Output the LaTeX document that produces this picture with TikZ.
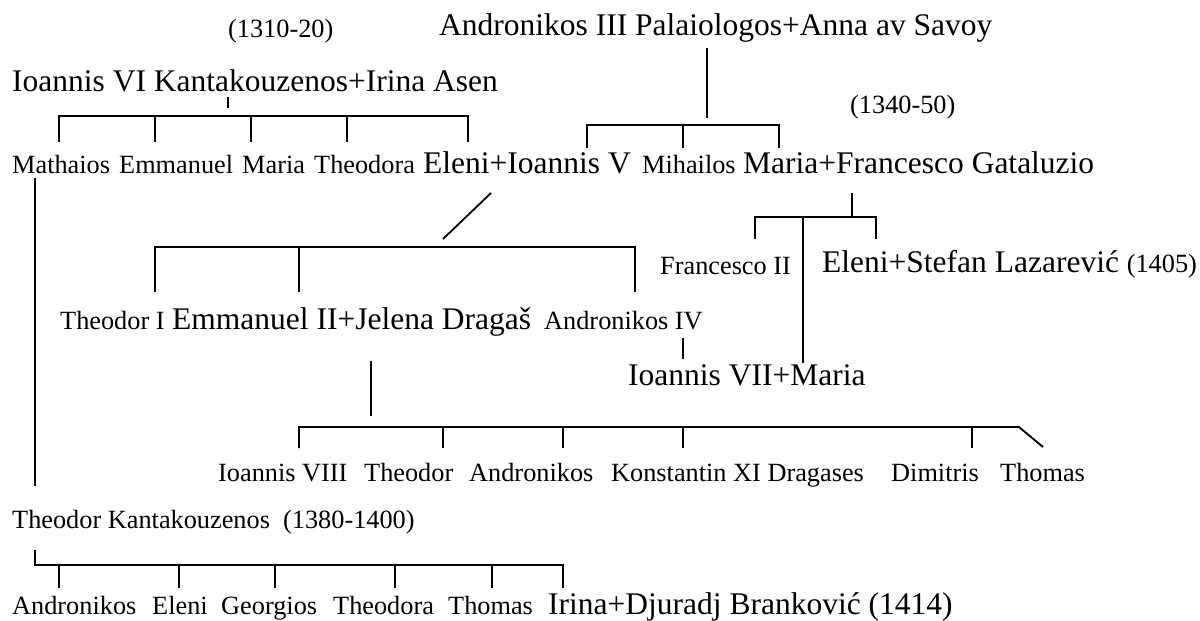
\documentclass[tikz,border=0pt]{standalone}
\usepackage{fontspec}
\setmainfont{Liberation Serif}
\newcommand\bigT{\fontsize{31.5}{36}\selectfont}
\newcommand\smT{\fontsize{26.3}{30}\selectfont}
\begin{document}
\begin{tikzpicture}[x=1pt,y=-1pt,
  big/.style={anchor=base west,inner sep=0pt,font=\bigT},
  sm/.style={anchor=base west,inner sep=0pt,font=\smT},
  link/.style={line width=1.8pt,line cap=butt,line join=miter}]
\useasboundingbox (0,0) rectangle (1200,621);
% row 0
\node[sm]  (d1310) at (228,37) {(1310-20)};
\node[big] (andIII) at (439,35) {Andronikos III Palaiologos+Anna av Savoy};
% row 1
\node[big] (ioVI) at (12,91) {Ioannis VI Kantakouzenos+Irina Asen};
\node[sm]  (d1340) at (850,113) {(1340-50)};
% row 2
\node[sm]  (mathaios) at (12,173) {Mathaios};
\node[sm]  (emmanuel) at (119,173) {Emmanuel};
\node[sm]  (maria) at (242,173) {Maria};
\node[sm]  (theodora) at (314,173) {Theodora};
\node[big] (eleniV) at (423,173) {Eleni+Ioannis V};
\node[sm]  (mihailos) at (642,173) {Mihailos};
\node[big] (mariaF) at (743,173) {Maria+Francesco Gataluzio};
% row 3
\node[sm]  (francII) at (660,274) {Francesco II};
\node[big] (eleniS) at (822,272) {Eleni+Stefan Lazarević {\smT(1405)}};
% row 4
\node[sm]  (theoI) at (60,329) {Theodor I};
\node[big] (emmII) at (172,329) {Emmanuel II+Jelena Dragaš};
\node[sm]  (andIV) at (544,329) {Andronikos IV};
% row 5
\node[big] (ioVII) at (628,385) {Ioannis VII+Maria};
% row 6
\node[sm]  (ioVIII) at (218,481) {Ioannis VIII};
\node[sm]  (theodor) at (364,481) {Theodor};
\node[sm]  (andr) at (469,481) {Andronikos};
\node[sm]  (konst) at (611,481) {Konstantin XI Dragases};
\node[sm]  (dimitris) at (891,481) {Dimitris};
\node[sm]  (thomas) at (1000,481) {Thomas};
% row 7
\node[sm]  (theoK) at (12,528) {Theodor Kantakouzenos\ \ (1380-1400)};
% row 8
\node[sm]  (andrB) at (12,614) {Andronikos};
\node[sm]  (eleniB) at (152,614) {Eleni};
\node[sm]  (georg) at (221,614) {Georgios};
\node[sm]  (theodoraB) at (333,614) {Theodora};
\node[sm]  (thomasB) at (448,614) {Thomas};
\node[big] (irina) at (548,614) {Irina+Djuradj Branković (1414)};
% connectors
% Ioannis VI family
\draw[link] (228,97) -- (228,108);
\draw[link] (59,142) -- (59,116) -- (468,116) -- (468,142);
\foreach \x in {155,251,347} \draw[link] (\x,116) -- (\x,142);
% Andronikos III family
\draw[link] (707,48) -- (707,118);
\draw[link] (587,148) -- (587,125) -- (779,125) -- (779,148);
\draw[link] (683,125) -- (683,148);
% Mathaios -> Theodor Kantakouzenos
\draw[link] (35,178) -- (35,486);
% Eleni+Ioannis V family
\draw[link] (491,193) -- (443,239);
\draw[link] (155,292) -- (155,247) -- (635,247) -- (635,292);
\draw[link] (299,247) -- (299,292);
% Maria+Francesco family
\draw[link] (852,193) -- (852,217);
\draw[link] (755,239) -- (755,217) -- (876,217) -- (876,239);
\draw[link] (803,217) -- (803,363);
% Andronikos IV -> Ioannis VII
\draw[link] (683,338) -- (683,359);
% Emmanuel II family
\draw[link] (371,361) -- (371,416);
\draw[link] (299,448) -- (299,427) -- (1019,427) -- (1043,447);
\foreach \x in {443,563,683,972} \draw[link] (\x,427) -- (\x,448);
% Theodor Kantakouzenos family
\draw[link] (35,550) -- (35,565) -- (563,565) -- (563,588);
\foreach \x in {59,179,275,395,492} \draw[link] (\x,565) -- (\x,588);
\end{tikzpicture}
\end{document}
